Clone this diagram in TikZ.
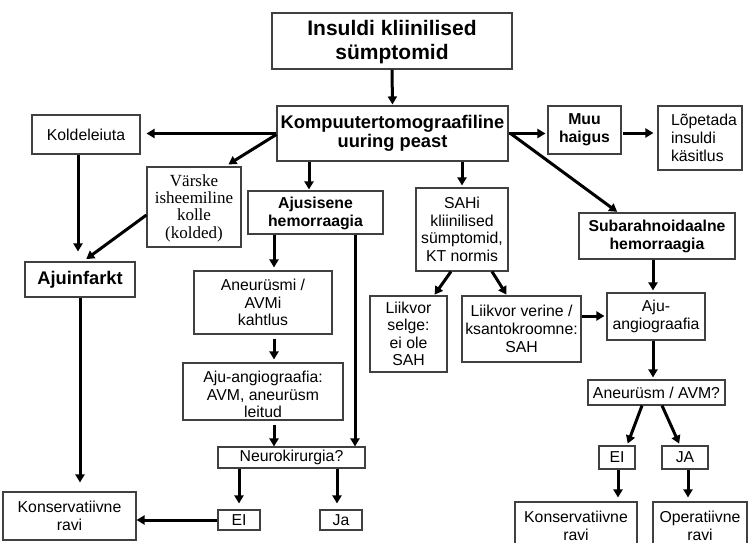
\documentclass[tikz,border=0pt]{standalone}
\usepackage{fontspec}
\setmainfont{Liberation Sans}
\newfontfamily\serifx{Liberation Serif}
\usetikzlibrary{arrows.meta}
\newcommand\shiftedtext[2]{\raisebox{#1}{\begin{tabular}{@{}c@{}}#2\end{tabular}}}
\begin{document}
\begin{tikzpicture}[x=1pt,y=-1pt,
  box/.style={draw=black!75, line width=1.1pt, inner sep=0pt, align=center,
    font=\fontsize{15.8}{17.5}\selectfont},
  bbox/.style={box, font=\fontsize{15.8}{17.5}\bfseries\selectfont},
  flat/.style={text height=0pt, text depth=0pt},
  arr/.style={line width=3pt, -{Triangle[length=8pt,width=9pt]}}]
\useasboundingbox (0,0) rectangle (750,543);

% nodes
\node[box, flat, minimum width=240pt, minimum height=56pt, font=\fontsize{21}{24}\bfseries\selectfont] (title) at (392,41) {\shiftedtext{-6.5pt}{Insuldi kliinilised\\sümptomid}};
\node[box, minimum width=231pt, minimum height=55pt, font=\fontsize{18.3}{19.5}\bfseries\selectfont] (kt) at (392.5,133.5) {Kompuutertomograafiline\\uuring peast};
\node[box, minimum width=108pt, minimum height=39pt] (kold) at (86,134.5) {Koldeleiuta};
\node[box, flat, minimum width=94pt, minimum height=80pt, font=\serifx\fontsize{17}{17.4}\selectfont] (varske) at (194,207) {\shiftedtext{-6pt}{Värske\\isheemiline\\kolle\\(kolded)}};
\node[bbox, flat, minimum width=135pt, minimum height=43pt] (ajus) at (315.5,212.5) {\shiftedtext{-5pt}{Ajusisene\\hemorraagia}};
\node[box, minimum width=110pt, minimum height=35pt, font=\fontsize{18.3}{19.5}\bfseries\selectfont] (ajuinf) at (80,279.5) {Ajuinfarkt};
\node[box, minimum width=138pt, minimum height=63pt] (aneur) at (263,302.5) {Aneurüsmi /\\AVMi\\kahtlus};
\node[box, flat, minimum width=160pt, minimum height=57pt] (angioL) at (263,391.5) {\shiftedtext{-9pt}{Aju-angiograafia:\\AVM, aneurüsm\\leitud}};
\node[box, minimum width=147pt, minimum height=21pt] (neuro) at (291.5,457.5) {Neurokirurgia?};
\node[box, minimum width=42pt, minimum height=20pt] (eiL) at (239,520) {EI};
\node[box, minimum width=42pt, minimum height=20pt] (ja) at (341,520) {Ja};
\node[box, minimum width=133pt, minimum height=48pt] (konsL) at (69.5,516) {Konservatiivne\\ravi};
\node[box, minimum width=73pt, minimum height=48pt, font=\fontsize{15.8}{18}\bfseries\selectfont] (muu) at (584.5,130) {Muu\\haigus};
\node[box, minimum width=84pt, minimum height=64pt, text width=64pt, align=left, font=\fontsize{15.8}{18}\selectfont] (lop) at (700,138) {\hspace*{3pt}Lõpetada\\\hspace*{3pt}insuldi\\\hspace*{3pt}käsitlus};
\node[box, minimum width=92pt, minimum height=83pt] (sah) at (462,229.5) {SAHi\\kliinilised\\sümptomid,\\KT normis};
\node[bbox, minimum width=156pt, minimum height=46pt, font=\fontsize{15.8}{18}\bfseries\selectfont] (subar) at (657,236) {Subarahnoidaalne\\hemorraagia};
\node[box, minimum width=77pt, minimum height=76pt] (selge) at (408.5,334) {Liikvor\\selge:\\ei ole\\SAH};
\node[box, minimum width=119pt, minimum height=66pt, font=\fontsize{15.8}{18}\selectfont] (verine) at (521.5,329) {Liikvor verine /\\ksantokroomne:\\SAH};
\node[box, minimum width=98pt, minimum height=47pt] (angioR) at (656,316.5) {Aju-\\angiograafia};
\node[box, minimum width=137pt, minimum height=25pt] (anq) at (656.5,392.5) {Aneurüsm / AVM?};
\node[box, minimum width=36pt, minimum height=23pt] (eiR) at (617,457.5) {EI};
\node[box, minimum width=46pt, minimum height=23pt] (jaR) at (685,457.5) {JA};
\node[box, minimum width=122pt, minimum height=48pt] (konsR) at (576,526) {Konservatiivne\\ravi};
\node[box, minimum width=94pt, minimum height=48pt] (oper) at (700,526) {Operatiivne\\ravi};

% connectors
\draw[arr, shorten >=1pt] (title.south) -- (kt.north);
\draw[arr, shorten >=6pt] (kt.west) -- (kt.west -| kold.east);
\draw[arr, shorten >=4pt] ([yshift=-1pt]kt.west) -- ([xshift=31pt]varske.north);
\draw[arr, shorten >=10pt] ([xshift=-8pt]kold.south) -- ([xshift=-8pt]kold.south |- ajuinf.north);
\draw[arr, shorten >=4pt] ([yshift=-8pt]varske.west) -- ([xshift=3pt]ajuinf.north);
\draw[arr, shorten >=9pt] (ajuinf.south) -- (ajuinf.south |- konsL.north);
\draw[arr, shorten >=1pt] ([xshift=-83.5pt]kt.south) -- ([xshift=-83.5pt]kt.south |- ajus.north);
\draw[arr, shorten >=3pt] ([xshift=11pt]aneur.north |- ajus.south) -- ([xshift=11pt]aneur.north);
\draw[arr, shorten <=4pt, shorten >=3pt] ([xshift=11pt]aneur.south) -- ([xshift=11pt]aneur.south |- angioL.north);
\draw[arr, shorten <=4pt] ([xshift=11pt]angioL.south) -- ([xshift=11pt]angioL.south |- neuro.north);
\draw[arr] ([xshift=39.5pt]ajus.south) -- ([xshift=39.5pt]ajus.south |- neuro.north);
\draw[arr, shorten >=6pt] (eiL.north |- neuro.south) -- (eiL.north);
\draw[arr, shorten >=6pt] ([xshift=-4pt]ja.north |- neuro.south) -- ([xshift=-4pt]ja.north);
\draw[arr] (eiL.west) -- (eiL.west -| konsL.east);
\draw[arr, shorten >=2pt] (kt.east) -- (kt.east -| muu.west);
\draw[arr, shorten <=1pt, shorten >=4pt] ([yshift=-3pt]muu.east) -- ([yshift=-3pt]muu.east -| lop.west);
\draw[arr, shorten >=1pt] ([xshift=2pt]kt.east) -- ([xshift=-39pt]subar.north);
\draw[arr, shorten >=2pt] (sah.north |- kt.south) -- (sah.north);
\draw[arr, shorten >=1pt] ([xshift=-11pt]sah.south) -- ([xshift=25.5pt]selge.north);
\draw[arr, shorten >=1pt] ([xshift=30pt]sah.south) -- ([xshift=-14.5pt]verine.north);
\draw[arr, shorten >=2pt] ([yshift=13pt]verine.east) -- ([yshift=13pt]verine.east -| angioR.west);
\draw[arr, shorten >=2pt] ([xshift=-3pt]angioR.north |- subar.south) -- ([xshift=-3pt]angioR.north);
\draw[arr, shorten >=2pt] ([xshift=-3pt]angioR.south) -- ([xshift=-3pt]angioR.south |- anq.north);
\draw[arr, shorten >=2pt] ([xshift=-14.5pt]anq.south) -- ([xshift=10pt]eiR.north);
\draw[arr, shorten >=2pt] ([xshift=5.5pt]anq.south) -- ([xshift=-5pt]jaR.north);
\draw[arr, shorten >=4pt] ([xshift=1pt]eiR.south) -- ([xshift=1pt]eiR.south |- konsR.north);
\draw[arr, shorten >=4pt] ([xshift=3pt]jaR.south) -- ([xshift=3pt]jaR.south |- oper.north);
\end{tikzpicture}
\end{document}
